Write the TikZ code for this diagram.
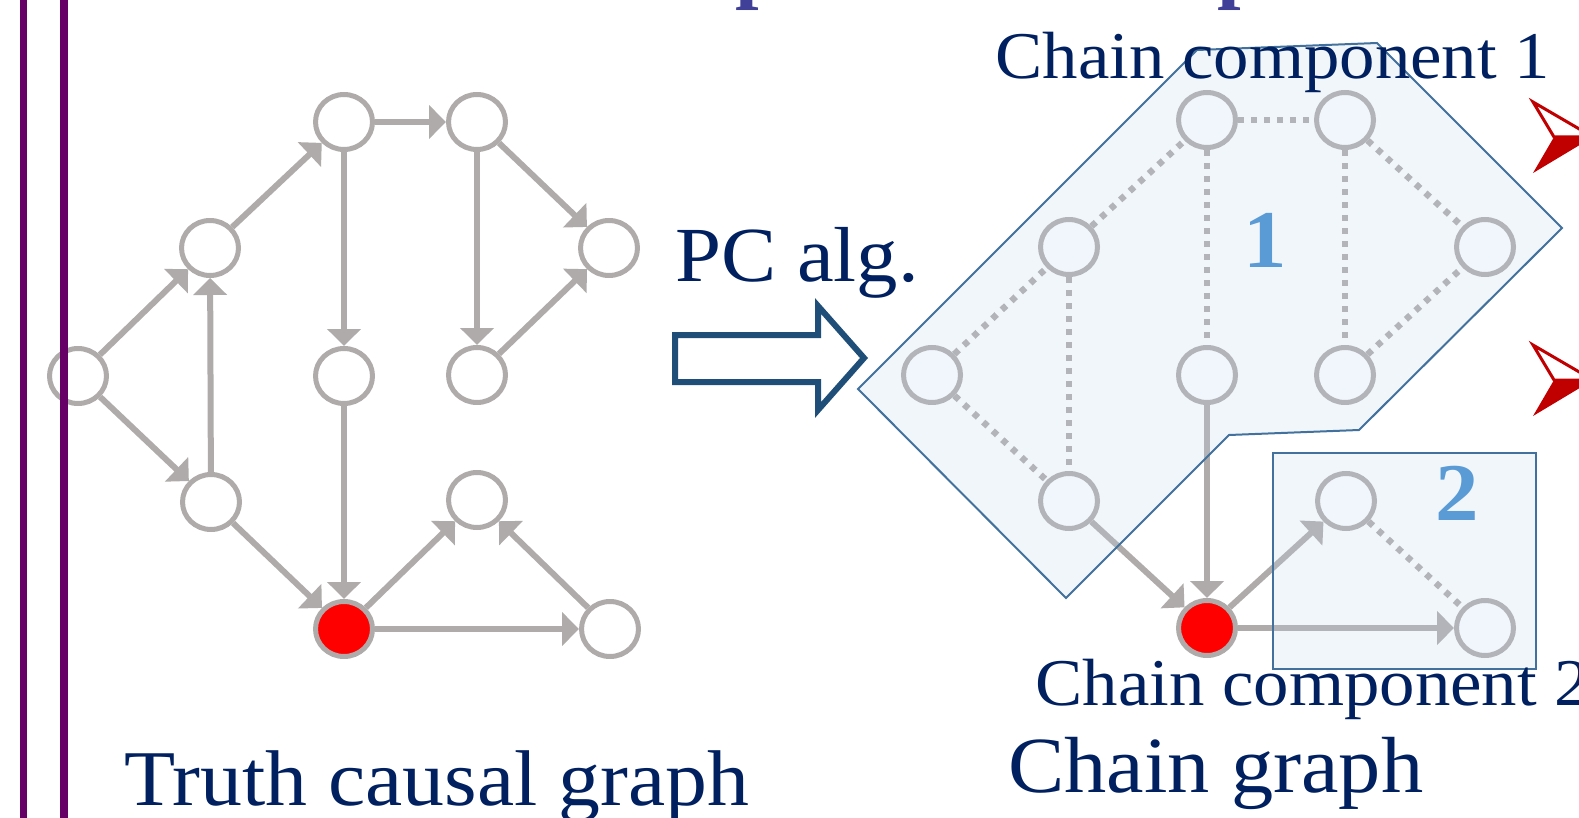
\documentclass[tikz,border=0pt]{standalone}
\usepackage{fontspec}
\setmainfont{Liberation Serif}[FakeStretch=1.06]
\usetikzlibrary{arrows.meta,shapes.geometric}

\definecolor{edgegray}{HTML}{AFABAB}
\definecolor{navy}{HTML}{002060}
\definecolor{ccfill}{HTML}{BDD7EE}
\definecolor{ccline}{HTML}{41719C}
\definecolor{pcblue}{HTML}{1F4E79}
\definecolor{numblue}{HTML}{5B9BD5}
\definecolor{bulletred}{HTML}{C00000}
\definecolor{barpurple}{HTML}{660066}
\definecolor{titleblue}{HTML}{404099}

\begin{document}
\begin{tikzpicture}[x=0.5pt,y=-0.5pt,
  vtx/.style={ellipse, draw=edgegray, line width=2.5pt, fill=white,
    minimum width=28.5pt, minimum height=27.5pt, inner sep=0pt},
  hot/.style={vtx, fill=red},
  dir/.style={draw=edgegray, line width=3pt,
    -{Triangle[length=8.5pt,width=16.5pt]}},
  undir/.style={draw=edgegray, line width=3.2pt, dash pattern=on 3pt off 3.5pt},
  comp/.style={draw=ccline, line width=1pt, fill=ccfill, fill opacity=0.22},
  lbl/.style={text=navy, inner sep=0pt, anchor=base west},
  cnum/.style={text=numblue, inner sep=0pt, font=\fontsize{41}{45}\selectfont\bfseries},
  headfrag/.style={text=titleblue, inner sep=0pt, anchor=base west,
    font=\fontsize{40}{44}\selectfont\bfseries},
]
\useasboundingbox (0,0) rectangle (1579,818);

% descenders of the heading above
\node[headfrag] (h1) at (735,-6) {p};
\node[headfrag] (h2) at (1217,-6) {p};

% ---- true causal graph ----
\node[vtx] (a1)  at (78,376)  {};
\node[vtx] (a2)  at (210,248) {};
\node[vtx] (a3)  at (211,502) {};
\node[vtx] (a4)  at (344,122) {};
\node[vtx] (a5)  at (477,122) {};
\node[vtx] (a6)  at (609,248) {};
\node[vtx] (a7)  at (344,376) {};
\node[vtx] (a8)  at (477,375) {};
\node[vtx] (a9)  at (477,500) {};
\node[hot] (a10) at (344,629) {};
\node[vtx] (a11) at (610,629) {};

\draw[dir] (a1) -- (a2);
\draw[dir] (a1) -- (a3);
\draw[dir] (a3) -- (a2);
\draw[dir] (a2) -- (a4);
\draw[dir] (a4) -- (a5);
\draw[dir] (a4) -- (a7);
\draw[dir] (a5) -- (a6);
\draw[dir] (a5) -- (a8);
\draw[dir] (a8) -- (a6);
\draw[dir] (a7) -- (a10);
\draw[dir] (a3) -- (a10);
\draw[dir] (a10) -- (a9);
\draw[dir] (a11) -- (a9);
\draw[dir] (a10) -- (a11);

% ---- block arrow ----
\draw[pcblue, line width=3pt, fill=white, miter limit=10]
  (675,335) -- (818,335) -- (818,306) -- (864,358) -- (818,410)
  -- (818,382) -- (675,382) -- cycle;
\node[lbl, font=\fontsize{39}{42}\selectfont] (pc) at (675,282) {PC alg.};

% ---- chain graph ----
\node[vtx] (b1)  at (932,375)  {};
\node[vtx] (b2)  at (1069,247) {};
\node[vtx] (b3)  at (1069,501) {};
\node[vtx] (b4)  at (1207,120) {};
\node[vtx] (b5)  at (1345,120) {};
\node[vtx] (b6)  at (1485,247) {};
\node[vtx] (b7)  at (1207,375) {};
\node[vtx] (b8)  at (1345,375) {};
\node[vtx] (b9)  at (1346,501) {};
\node[hot] (b10) at (1207,628) {};
\node[vtx] (b11) at (1485,628) {};

\draw[undir] (b1) -- (b2);
\draw[undir] (b1) -- (b3);
\draw[undir] (b2) -- (b3);
\draw[undir] (b2) -- (b4);
\draw[undir] (b4) -- (b5);
\draw[undir] (b4) -- (b7);
\draw[undir] (b5) -- (b6);
\draw[undir] (b5) -- (b8);
\draw[undir] (b8) -- (b6);
\draw[undir] (b9) -- (b11);
\draw[dir] (b7) -- (b10);
\draw[dir] (b3) -- (b10);
\draw[dir] (b10) -- (b9);
\draw[dir] (b10) -- (b11);

% chain components
\draw[comp] (858,389) -- (1197,50) -- (1377,43) -- (1562,228) -- (1359,430)
  -- (1229,435) -- (1066,598) -- cycle;
\draw[comp] (1273,453) rectangle (1536,669);
\node[cnum] (n1) at (1265,240) {1};
\node[cnum] (n2) at (1457,493) {2};

\node[lbl, font=\fontsize{33.4}{36}\selectfont] (c1) at (995,79) {Chain component 1};
\node[lbl, font=\fontsize{33.4}{36}\selectfont] (c2) at (1035,705) {Chain component 2};
\node[lbl, font=\fontsize{39.8}{42}\selectfont] (cg) at (1008,792) {Chain graph};
\node[lbl, font=\fontsize{39.5}{42}\selectfont] (tg) at (124,805) {Truth causal graph};

% bullets
\foreach \yy in {102,345} {
  \draw[bulletred, line width=1.5pt, fill=white, line join=miter]
    (1533,\yy) -- (1593,\yy+35) -- (1554,\yy+35) -- cycle;
  \fill[bulletred] (1554,\yy+35) -- (1593,\yy+35) -- (1533,\yy+71) -- cycle;
}

% frame bars
\draw[barpurple, line width=3.75pt] (23.5,0) -- (23.5,818);
\draw[barpurple, line width=3.75pt] (64,0) -- (64,818);
\end{tikzpicture}
\end{document}
